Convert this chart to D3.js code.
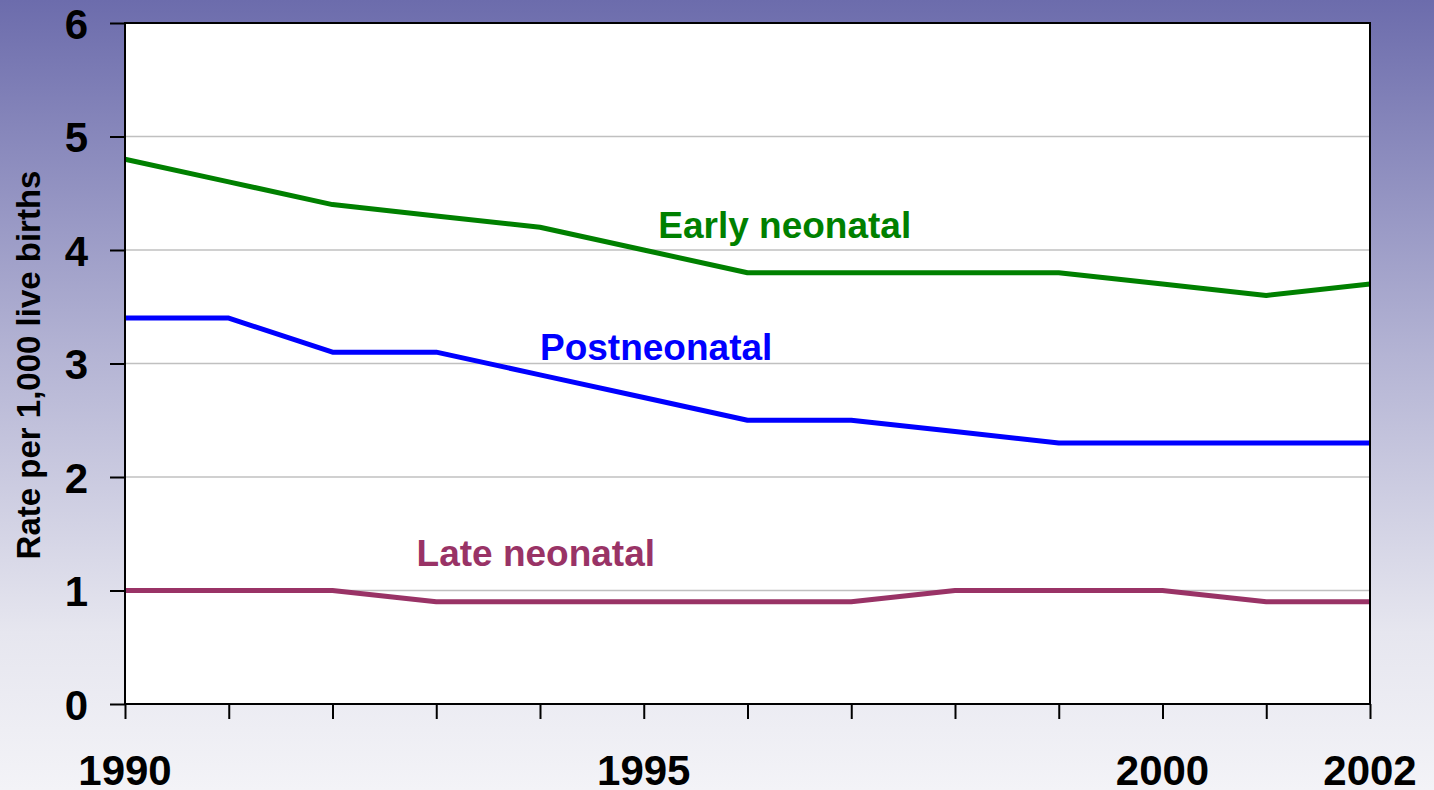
<!DOCTYPE html>
<html>
<head>
<meta charset="utf-8">
<script src="https://cdn.jsdelivr.net/npm/d3@7"></script>
<style>
  html, body { margin: 0; padding: 0; }
  svg { display: block; }
  svg text { font-family: "Liberation Sans", Arial, Helvetica, sans-serif; font-weight: bold; }
</style>
</head>
<body>
<svg></svg>
<script>
// Chart data
const years = [1990, 1991, 1992, 1993, 1994, 1995, 1996, 1997, 1998, 1999, 2000, 2001, 2002];
const earlyNeonatal = [4.8, 4.6, 4.4, 4.3, 4.2, 4.0, 3.8, 3.8, 3.8, 3.8, 3.7, 3.6, 3.7];
const postneonatal = [3.4, 3.4, 3.1, 3.1, 2.9, 2.7, 2.5, 2.5, 2.4, 2.3, 2.3, 2.3, 2.3];
const lateNeonatal = [1.0, 1.0, 1.0, 0.9, 0.9, 0.9, 0.9, 0.9, 1.0, 1.0, 1.0, 0.9, 0.9];
const yTicks = [0, 1, 2, 3, 4, 5, 6];
const xLabelYears = [1990, 1995, 2000, 2002];

const series = [
  { name: "Early neonatal", values: earlyNeonatal, color: "#008000", labelYear: 1995.14, labelValue: 4.11 },
  { name: "Postneonatal", values: postneonatal, color: "#0000ff", labelYear: 1994.0, labelValue: 3.03 },
  { name: "Late neonatal", values: lateNeonatal, color: "#993366", labelYear: 1992.81, labelValue: 1.22 }
];

const width = 1434;
const height = 790;
const margin = { top: 23, right: 64, bottom: 86, left: 125 };

const svg = d3.select("svg")
    .attr("width", width)
    .attr("height", height);

// Background gradient
const defs = svg.append("defs");
const grad = defs.append("linearGradient")
    .attr("id", "bg")
    .attr("x1", 0).attr("y1", 0).attr("x2", 0).attr("y2", 1);
grad.append("stop").attr("offset", "0%").attr("stop-color", "#6c6cac");
grad.append("stop").attr("offset", "45%").attr("stop-color", "#b4b4d4");
grad.append("stop").attr("offset", "80%").attr("stop-color", "#e6e6ef");
grad.append("stop").attr("offset", "100%").attr("stop-color", "#f3f3f7");

svg.append("rect")
    .attr("width", width)
    .attr("height", height)
    .attr("fill", "url(#bg)");

const x = d3.scaleLinear()
    .domain([1990, 2002])
    .range([margin.left, width - margin.right]);

const y = d3.scaleLinear()
    .domain([0, 6])
    .range([height - margin.bottom, margin.top]);

// Plot area
svg.append("rect")
    .attr("x", x(1990))
    .attr("y", y(6))
    .attr("width", x(2002) - x(1990))
    .attr("height", y(0) - y(6))
    .attr("fill", "#ffffff");

// Gridlines
svg.append("g")
    .selectAll("line")
    .data(yTicks.filter(d => d > 0 && d < 6))
    .enter().append("line")
    .attr("x1", x(1990))
    .attr("x2", x(2002))
    .attr("y1", d => y(d))
    .attr("y2", d => y(d))
    .attr("stroke", "#c0c0c0")
    .attr("stroke-width", 1.5);

// Lines
const line = d3.line()
    .x((d, i) => x(years[i]))
    .y(d => y(d));

svg.append("g")
    .selectAll("path")
    .data(series)
    .enter().append("path")
    .attr("d", d => line(d.values))
    .attr("fill", "none")
    .attr("stroke", d => d.color)
    .attr("stroke-width", 5)
    .attr("stroke-linejoin", "round");

// Frame
svg.append("rect")
    .attr("x", x(1990))
    .attr("y", y(6))
    .attr("width", x(2002) - x(1990))
    .attr("height", y(0) - y(6))
    .attr("fill", "none")
    .attr("stroke", "#000")
    .attr("stroke-width", 2);

// Y axis
const yAxis = svg.append("g")
    .attr("transform", `translate(${x(1990)},0)`)
    .call(d3.axisLeft(y).tickValues(yTicks).tickSize(15).tickPadding(22).tickFormat(d3.format("d")));
yAxis.select(".domain").remove();
yAxis.attr("font-family", null).attr("font-size", null);
yAxis.selectAll(".tick line").attr("stroke", "#000").attr("stroke-width", 2);
yAxis.selectAll(".tick text")
    .attr("fill", "#000")
    .style("font-size", "42px")
    .attr("dy", "0.36em");

// X axis
const xAxis = svg.append("g")
    .attr("transform", `translate(0,${y(0)})`)
    .call(d3.axisBottom(x).tickValues(years).tickSize(15).tickFormat(""));
xAxis.select(".domain").remove();
xAxis.selectAll(".tick line").attr("stroke", "#000").attr("stroke-width", 2);

svg.append("g")
    .selectAll("text")
    .data(xLabelYears)
    .enter().append("text")
    .attr("x", d => x(d))
    .attr("y", 785)
    .attr("text-anchor", "middle")
    .style("font-size", "42px")
    .attr("fill", "#000")
    .text(d => d);

// Y axis title
svg.append("text")
    .attr("transform", `translate(40,365) rotate(-90)`)
    .attr("text-anchor", "middle")
    .style("font-size", "33px")
    .attr("fill", "#000")
    .text("Rate per 1,000 live births");

// Series labels
svg.append("g")
    .selectAll("text")
    .data(series)
    .enter().append("text")
    .attr("x", d => x(d.labelYear))
    .attr("y", d => y(d.labelValue))
    .style("font-size", "37px")
    .attr("fill", d => d.color)
    .text(d => d.name);
</script>
</body>
</html>
